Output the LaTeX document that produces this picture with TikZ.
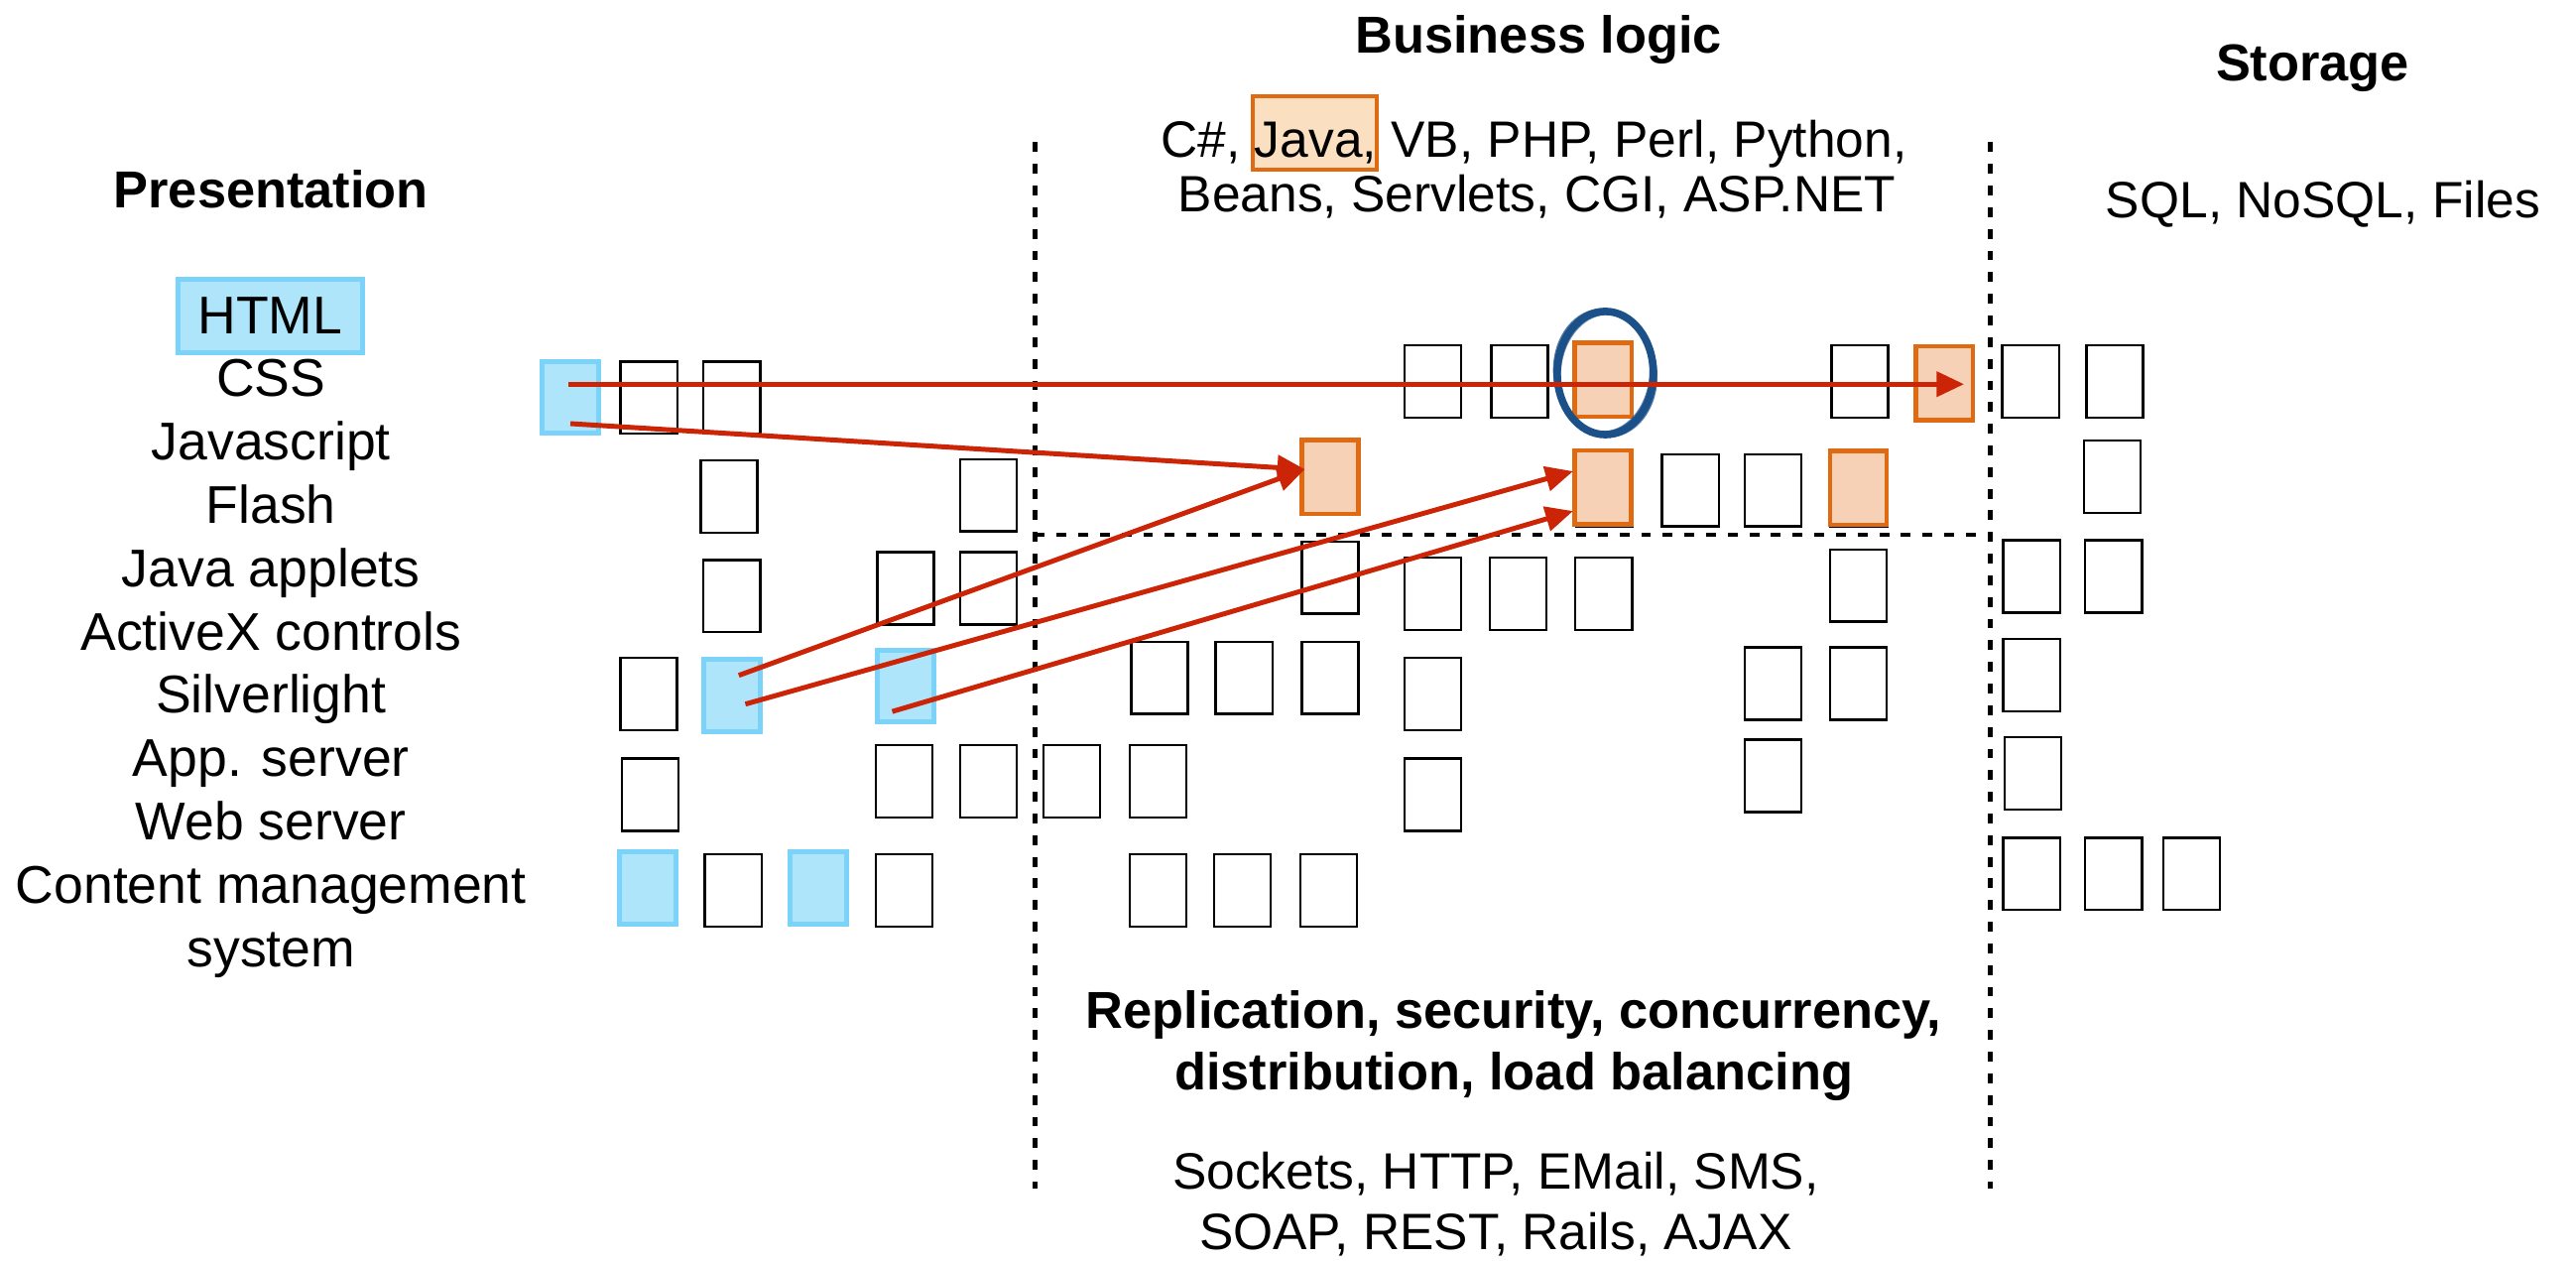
\documentclass[tikz,border=0pt]{standalone}
\usepackage{fontspec}
\setmainfont{Liberation Sans}
\usetikzlibrary{arrows.meta,calc,shapes.geometric}
\definecolor{bluefill}{HTML}{AFE5FB}
\definecolor{blueedge}{HTML}{7BD3FA}
\definecolor{orfill}{HTML}{F6D1B6}
\definecolor{oredge}{HTML}{E06A12}
\definecolor{javafill}{HTML}{FBDFC1}
\definecolor{arrred}{HTML}{CC2406}
\definecolor{ringblue}{HTML}{1B5089}
\tikzset{
  cell/.style={draw=black, fill=white, line width=0.8pt, minimum width=0.69cm, minimum height=0.88cm, inner sep=0pt, outer sep=0pt},
  bluecell/.style={cell, draw=blueedge, fill=bluefill, line width=1.7pt},
  orcell/.style={cell, draw=oredge, fill=orfill, line width=1.5pt, minimum height=0.9cm},
  link/.style={draw=arrred, line width=1.7pt, -{Triangle[length=9.5pt,width=8.5pt]}},
  sepline/.style={line width=1.5pt, dash pattern=on 3.4pt off 4.1pt},
  lbl/.style={font=\fontsize{17.7}{21}\selectfont, anchor=base, inner sep=0pt},
  listlbl/.style={font=\fontsize{18.4}{22}\selectfont, anchor=base, inner sep=0pt},
  head/.style={font=\fontsize{18}{22}\selectfont\bfseries, anchor=base, inner sep=0pt},
  ring/.style={draw=ringblue, ellipse, line width=2.6pt, minimum width=1.17cm, minimum height=1.5cm, inner sep=0pt},
}
\begin{document}
\begin{tikzpicture}[x=0.02cm,y=-0.02cm]
\useasboundingbox (0,0) rectangle (1568,767);

% separators
\coordinate (vlT) at (630,86.6);
\coordinate (vlB) at (630,723.5);
\coordinate (vrT) at (1211.4,86.6);
\coordinate (vrB) at (1211.4,723.5);
\coordinate (hL) at (630,325.6);
\coordinate (hR) at (1211.4,325.6);
\draw[sepline] (vlT) -- (vlB);
\draw[sepline] (vrT) -- (vrB);
\draw[sepline] (hL) -- (hR);

% headings and texts
\node[head] (tPres) at (165,126.5) {Presentation};
\node[head] (tBiz) at (936.6,32.2) {Business logic};
\node[head] (tSto) at (1407.7,49.3) {Storage};
\node[head] (tRep1) at (921.4,625.9) {Replication, security, concurrency,};
\node[head] (tRep2) at (921.4,663.1) {distribution, load balancing};

\node[draw=oredge, fill=javafill, line width=1.5pt, minimum width=1.51cm, minimum height=0.894cm, inner sep=0pt] (javabox) at (800.2,81) {};
\node[lbl] (tLang1) at (933.7,95.6) {C\#, Java, VB, PHP, Perl, Python,};
\node[lbl] (tLang2) at (935.5,129) {Beans, Servlets, CGI, ASP.NET};
\node[lbl] (tStoL) at (1414,132.8) {SQL, NoSQL, Files};
\node[lbl] (tProt1) at (910.4,723.5) {Sockets, HTTP, EMail, SMS,};
\node[lbl] (tProt2) at (910.4,760.7) {SOAP, REST, Rails, AJAX};

\node[bluecell, minimum width=2.25cm, minimum height=0.89cm, font=\fontsize{18.4}{22}\selectfont] (html) at (164.4,192.2) {HTML};
\node[listlbl] (l1) at (165,241.1) {CSS};
\node[listlbl] (l2) at (165,279.7) {Javascript};
\node[listlbl] (l3) at (165,318.3) {Flash};
\node[listlbl] (l4) at (165,356.9) {Java applets};
\node[listlbl] (l5) at (165,395.5) {ActiveX controls};
\node[listlbl] (l6) at (165,434.1) {Silverlight};
\node[listlbl] (l7) at (165,472.7) {App. server};
\node[listlbl] (l8) at (165,511.3) {Web server};
\node[listlbl] (l9) at (165,549.9) {Content management};
\node[listlbl] (l10) at (165,588.5) {system};

% presentation boxes
\node[bluecell] (bA0) at (347.2,241.8) {};
\node[cell] (cA1) at (395,242) {};
\node[cell] (cA2) at (445.5,242) {};
\node[cell] (cB1) at (443.8,302.3) {};
\node[cell] (cB2) at (601.8,301.4) {};
\node[cell] (cC1) at (445.5,362.8) {};
\node[cell] (cC2) at (551.2,358) {};
\node[cell] (cC3) at (601.8,358) {};
\node[cell] (cD1) at (394.9,422.4) {};
\node[bluecell] (bD2) at (445.7,423) {};
\node[bluecell] (bD3) at (551.1,417.5) {};
\node[cell] (cE1) at (395.8,483.6) {};
\node[cell] (cE2) at (550.3,475.4) {};
\node[cell] (cE3) at (601.8,475.4) {};
\node[cell] (cE4) at (652.3,475.4) {};
\node[cell] (cE5) at (704.8,475.4) {};
\node[bluecell] (bF1) at (394.1,540.6) {};
\node[cell] (cF2) at (446.3,541.8) {};
\node[bluecell] (bF3) at (498,540.6) {};
\node[cell] (cF4) at (550.3,541.8) {};

% business logic boxes
\node[cell] (cA3) at (872.3,232.3) {};
\node[cell] (cA4) at (925,232.3) {};
\node[cell] (cA5) at (976.5,232.3) {};
\node[orcell] (oA1) at (975.8,231.2) {};
\node[cell] (cA6) at (1132,232.3) {};
\node[orcell] (oA2) at (1183.5,233.2) {};
\node[orcell] (oB1) at (809.6,290.2) {};
\node[cell] (cB3) at (976.5,298.5) {};
\node[orcell] (oB2) at (975.7,296.6) {};
\node[cell] (cB4) at (1028.9,298.4) {};
\node[cell] (cB5) at (1079.3,298.4) {};
\node[cell] (cB6) at (1131.5,298.4) {};
\node[orcell] (oB3) at (1131.2,296.8) {};
\node[cell] (cC4) at (809.6,351.5) {};
\node[cell] (cC5) at (872.3,361.2) {};
\node[cell] (cC6) at (924.1,361.2) {};
\node[cell] (cC7) at (976.2,361.2) {};
\node[cell] (cC8) at (1131,356.3) {};
\node[cell] (cD4) at (705.8,412.5) {};
\node[cell] (cD5) at (757.2,412.5) {};
\node[cell] (cD6) at (809.6,412.5) {};
\node[cell] (cD7) at (872.3,422.4) {};
\node[cell] (cD8) at (1079.3,416) {};
\node[cell] (cD9) at (1131,416) {};
\node[cell] (cE6) at (872.3,483.6) {};
\node[cell] (cE7) at (1079.3,472.1) {};
\node[cell] (cF5) at (704.8,541.8) {};
\node[cell] (cF6) at (756.3,541.8) {};
\node[cell] (cF7) at (808.7,541.8) {};

% storage boxes
\node[cell] (sA1) at (1236,232.3) {};
\node[cell] (sA2) at (1287.2,232.3) {};
\node[cell] (sB1) at (1285.6,290.2) {};
\node[cell] (sC1) at (1236.6,350.8) {};
\node[cell] (sC2) at (1286.5,350.8) {};
\node[cell] (sD1) at (1236.6,410.8) {};
\node[cell] (sE1) at (1237.4,470.5) {};
\node[cell] (sF1) at (1236.6,531.8) {};
\node[cell] (sF2) at (1286.5,531.8) {};
\node[cell] (sF3) at (1334,531.8) {};

% highlight ring
\node[ring] (hl) at ($(oA1)+(1.3,-4.2)$) {};
\draw[ringblue, line width=0.8pt, opacity=0.75, rotate around={6:(hl.center)}] (hl.center) ellipse [x radius=0.62cm, y radius=0.775cm];
\draw[ringblue, line width=0.7pt, opacity=0.7, rotate around={-5:(hl.center)}] (hl.center) ellipse [x radius=0.55cm, y radius=0.72cm];

% arrows
\draw[link] ($(bA0)+(-1,-8)$) -- ($(oA2)+(12,0.6)$);
\draw[link] ($(bA0)+(0,16)$) -- ($(oB1)+(-15.4,-4.6)$);
\draw[link] ($(bD2)+(4,-12)$) -- ($(oB1)+(-15.4,-4.6)$);
\draw[link] ($(bD2)+(8,5.5)$) -- ($(oB2)+(-18.2,-9.8)$);
\draw[link] ($(bD3)+(-8,15.5)$) -- ($(oB2)+(-18.2,14.4)$);
\end{tikzpicture}
\end{document}
